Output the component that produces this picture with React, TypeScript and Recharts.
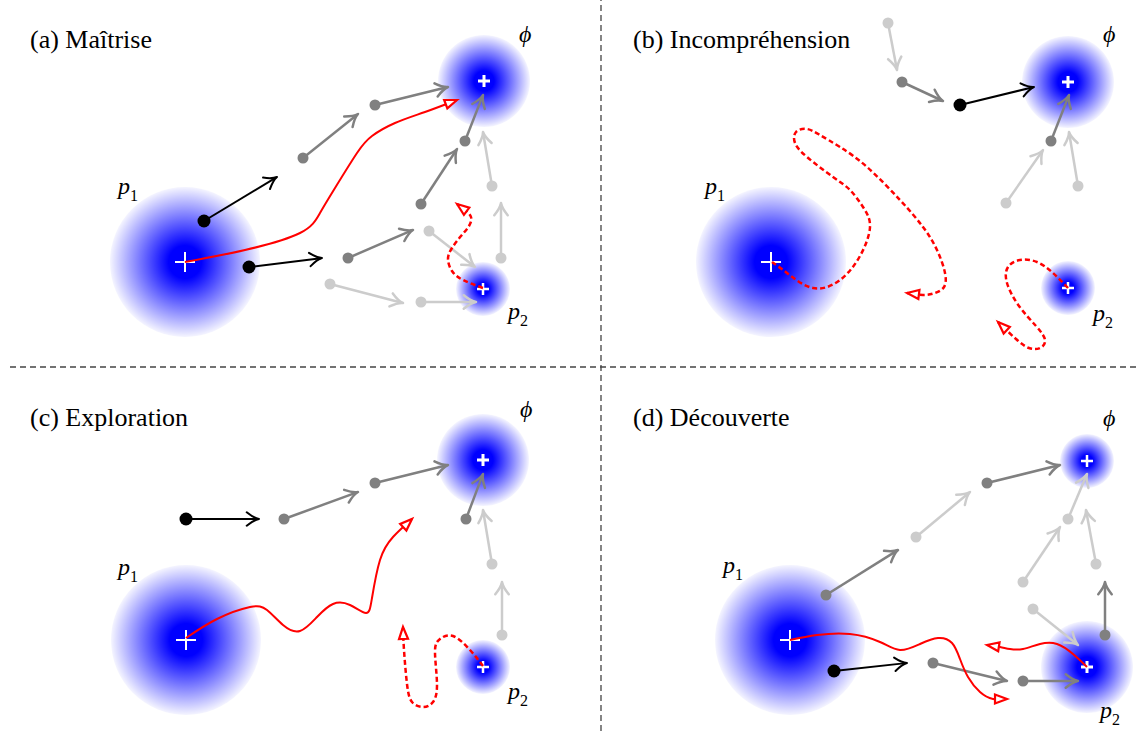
import React from "react";
import { ScatterChart, ComposedChart, Scatter, Line, XAxis, YAxis, ReferenceLine } from "recharts";

const W = 1137;
const H = 731;

type Pt = { x: number; y: number };
type Tone = "black" | "gray" | "light";
type Arrow = [number, number, number, number, Tone];

// attractors: p1, phi, p2 in each of the four panels
const blobs = [
  { x: 185, y: 262, kind: "large" },
  { x: 484, y: 81, kind: "medium" },
  { x: 483, y: 289, kind: "small" },
  { x: 771, y: 262, kind: "large" },
  { x: 1068, y: 82, kind: "medium" },
  { x: 1068, y: 288, kind: "small" },
  { x: 186, y: 640, kind: "large" },
  { x: 483, y: 460, kind: "medium" },
  { x: 483, y: 667, kind: "small" },
  { x: 790, y: 640, kind: "large" },
  { x: 1087, y: 461, kind: "small" },
  { x: 1087, y: 667, kind: "medium" },
];

// steps: [from x, from y, to x, to y, tone]
const arrowsA: Arrow[] = [
  [204, 221, 277, 177, "black"],
  [249, 267, 322, 258, "black"],
  [303, 158, 358, 114, "gray"],
  [375, 105, 448, 87, "gray"],
  [465, 141, 483, 95, "gray"],
  [421, 204, 457, 149, "gray"],
  [348, 258, 413, 230, "gray"],
  [492, 186, 483, 132, "light"],
  [501, 258, 501, 203, "light"],
  [429, 231, 475, 267, "light"],
  [330, 284, 403, 303, "light"],
  [421, 302, 476, 302, "light"],
];

const arrowsB: Arrow[] = [
  [888, 23, 897, 70, "light"],
  [902, 82, 943, 101, "gray"],
  [960, 105, 1034, 87, "black"],
  [1051, 141, 1069, 95, "gray"],
  [1006, 203, 1043, 150, "light"],
  [1078, 186, 1069, 132, "light"],
];

const arrowsC: Arrow[] = [
  [186, 519, 259, 519, "black"],
  [284, 519, 358, 492, "gray"],
  [375, 483, 448, 465, "gray"],
  [466, 519, 483, 474, "gray"],
  [492, 564, 483, 510, "light"],
  [502, 635, 502, 582, "light"],
];

const arrowsD: Arrow[] = [
  [826, 595, 898, 550, "gray"],
  [834, 671, 907, 663, "black"],
  [916, 537, 970, 492, "light"],
  [987, 483, 1060, 465, "gray"],
  [1068, 519, 1087, 474, "light"],
  [1023, 582, 1060, 527, "light"],
  [1096, 564, 1086, 510, "light"],
  [1033, 609, 1078, 645, "light"],
  [1105, 635, 1105, 582, "gray"],
  [933, 663, 1007, 681, "gray"],
  [1023, 681, 1078, 681, "gray"],
];

// red trajectories
const pathA1: Pt[] = [
  { x: 185, y: 262 }, { x: 245, y: 250 }, { x: 300, y: 233 }, { x: 320, y: 213 },
  { x: 335, y: 188 }, { x: 357, y: 153 }, { x: 372, y: 136 }, { x: 395, y: 123 },
  { x: 425, y: 112 }, { x: 457, y: 100 },
];
const pathA2: Pt[] = [
  { x: 483, y: 288 }, { x: 463, y: 280 }, { x: 452, y: 271 }, { x: 448, y: 259 },
  { x: 452, y: 248 }, { x: 461, y: 236 }, { x: 469, y: 226 }, { x: 471, y: 217 },
  { x: 465, y: 210 }, { x: 457, y: 204 },
];
const pathB1: Pt[] = [
  { x: 772, y: 262 }, { x: 787, y: 273 }, { x: 813, y: 288 }, { x: 840, y: 280 },
  { x: 860, y: 256 }, { x: 870, y: 227 }, { x: 863, y: 207 }, { x: 850, y: 190 },
  { x: 833, y: 177 }, { x: 807, y: 157 }, { x: 795, y: 143 }, { x: 796, y: 132 },
  { x: 807, y: 129 }, { x: 820, y: 135 }, { x: 840, y: 147 }, { x: 867, y: 167 },
  { x: 900, y: 200 }, { x: 923, y: 227 }, { x: 937, y: 250 }, { x: 945, y: 273 },
  { x: 944, y: 287 }, { x: 935, y: 293 }, { x: 923, y: 295 }, { x: 907, y: 293 },
];
const pathB2: Pt[] = [
  { x: 1068, y: 288 }, { x: 1053, y: 273 }, { x: 1037, y: 262 }, { x: 1020, y: 260 },
  { x: 1008, y: 267 }, { x: 1007, y: 283 }, { x: 1019, y: 306 }, { x: 1036, y: 326 },
  { x: 1045, y: 340 }, { x: 1040, y: 348 }, { x: 1029, y: 348 }, { x: 1016, y: 339 },
  { x: 998, y: 322 },
];
const pathC1: Pt[] = [
  { x: 186, y: 638 }, { x: 217, y: 619 }, { x: 250, y: 607 }, { x: 267, y: 610 },
  { x: 283, y: 625 }, { x: 300, y: 631 }, { x: 317, y: 617 }, { x: 333, y: 604 },
  { x: 350, y: 605 }, { x: 366, y: 613 }, { x: 372, y: 598 }, { x: 380, y: 560 },
  { x: 393, y: 537 }, { x: 412, y: 519 },
];
const pathC2: Pt[] = [
  { x: 483, y: 666 }, { x: 470, y: 650 }, { x: 453, y: 636 }, { x: 440, y: 639 },
  { x: 435, y: 652 }, { x: 437, y: 684 }, { x: 433, y: 702 }, { x: 423, y: 707 },
  { x: 412, y: 702 }, { x: 407, y: 684 }, { x: 404, y: 650 }, { x: 403, y: 627 },
];
const pathD1: Pt[] = [
  { x: 790, y: 640 }, { x: 817, y: 635 }, { x: 850, y: 634 }, { x: 880, y: 642 },
  { x: 900, y: 650 }, { x: 920, y: 644 }, { x: 938, y: 638 }, { x: 952, y: 643 },
  { x: 960, y: 659 }, { x: 968, y: 677 }, { x: 980, y: 692 }, { x: 993, y: 699 },
  { x: 1007, y: 699 },
];
const pathD2: Pt[] = [
  { x: 1087, y: 667 }, { x: 1073, y: 654 }, { x: 1057, y: 644 }, { x: 1040, y: 644 },
  { x: 1023, y: 649 }, { x: 1010, y: 649 }, { x: 1000, y: 647 }, { x: 987, y: 645 },
];

const paths = [
  { pts: pathA1, dashed: false },
  { pts: pathA2, dashed: true },
  { pts: pathB1, dashed: true },
  { pts: pathB2, dashed: true },
  { pts: pathC1, dashed: false },
  { pts: pathC2, dashed: true },
  { pts: pathD1, dashed: false },
  { pts: pathD2, dashed: false },
];

const labels = [
  { x: 30, y: 48, kind: "title", text: "(a) Maîtrise" },
  { x: 633, y: 48, kind: "title", text: "(b) Incompréhension" },
  { x: 30, y: 426, kind: "title", text: "(c) Exploration" },
  { x: 633, y: 426, kind: "title", text: "(d) Découverte" },
  { x: 118, y: 194, kind: "var", text: "p", sub: "1" },
  { x: 508, y: 319, kind: "var", text: "p", sub: "2" },
  { x: 519, y: 42, kind: "phi", text: "ϕ" },
  { x: 705, y: 194, kind: "var", text: "p", sub: "1" },
  { x: 1093, y: 321, kind: "var", text: "p", sub: "2" },
  { x: 1103, y: 42, kind: "phi", text: "ϕ" },
  { x: 118, y: 575, kind: "var", text: "p", sub: "1" },
  { x: 508, y: 699, kind: "var", text: "p", sub: "2" },
  { x: 520, y: 417, kind: "phi", text: "ϕ" },
  { x: 723, y: 573, kind: "var", text: "p", sub: "1" },
  { x: 1100, y: 718, kind: "var", text: "p", sub: "2" },
  { x: 1103, y: 426, kind: "phi", text: "ϕ" },
];

const BLOB_R: Record<string, number> = { large: 75, medium: 46, small: 27 };
const CROSS: Record<string, [number, number]> = { large: [10, 2], medium: [6, 3], small: [6, 2.5] };
const TONE: Record<Tone, { c: string; w: number; r: number }> = {
  black: { c: "#000000", w: 2, r: 6.5 },
  gray: { c: "#808080", w: 2.5, r: 5.5 },
  light: { c: "#cccccc", w: 2.5, r: 5.5 },
};
const SERIF = "Liberation Serif, DejaVu Serif, serif";

function BlobShape(props: any) {
  const { cx, cy, payload } = props;
  const r = BLOB_R[payload.kind];
  const [c, w] = CROSS[payload.kind];
  const id = `blob-${payload.x}-${payload.y}`;
  return (
    <g>
      <defs>
        <radialGradient id={id} cx="50%" cy="50%" r="50%">
          <stop offset="0" stopColor="#0000ff" />
          <stop offset="0.22" stopColor="#0000ff" />
          <stop offset="1" stopColor="#0000ff" stopOpacity={0.04} />
        </radialGradient>
      </defs>
      <circle cx={cx} cy={cy} r={r} fill={`url(#${id})`} />
      <path d={`M${cx - c},${cy}H${cx + c}M${cx},${cy - c}V${cy + c}`} stroke="#ffffff" strokeWidth={w} />
    </g>
  );
}

const arrowShape = (tone: Tone) => (p: any) => {
  const { x1, y1, x2, y2 } = p;
  const t = TONE[tone];
  const a = Math.atan2(y2 - y1, x2 - x1);
  const L = 14;
  const s = 0.5;
  const ax = x2 - L * Math.cos(a - s);
  const ay = y2 - L * Math.sin(a - s);
  const bx = x2 - L * Math.cos(a + s);
  const by = y2 - L * Math.sin(a + s);
  const ex = x2 - 1.2 * Math.cos(a);
  const ey = y2 - 1.2 * Math.sin(a);
  return (
    <g>
      <line x1={x1} y1={y1} x2={ex} y2={ey} stroke={t.c} strokeWidth={t.w} />
      <path
        d={`M${ax},${ay}Q${x2 - 5 * Math.cos(a - 0.15)},${y2 - 5 * Math.sin(a - 0.15)} ${x2},${y2}Q${x2 - 5 * Math.cos(a + 0.15)},${y2 - 5 * Math.sin(a + 0.15)} ${bx},${by}`}
        fill="none"
        stroke={t.c}
        strokeWidth={t.w}
        strokeLinecap="round"
        strokeLinejoin="round"
      />
      <circle cx={x1} cy={y1} r={t.r} fill={t.c} />
    </g>
  );
};

const headShape = (p: any) => {
  const { x1, y1, x2, y2 } = p;
  const a = Math.atan2(y2 - y1, x2 - x1);
  const L = 12;
  const hw = 4.5;
  const bx = x2 - L * Math.cos(a);
  const by = y2 - L * Math.sin(a);
  const nx = -Math.sin(a) * hw;
  const ny = Math.cos(a) * hw;
  return (
    <path
      d={`M${x2},${y2}L${bx + nx},${by + ny}L${bx - nx},${by - ny}Z`}
      fill="#ffffff"
      stroke="#ff0000"
      strokeWidth={2.2}
    />
  );
};

function LabelShape(props: any) {
  const { cx, cy, payload } = props;
  if (payload.kind === "title") {
    return (
      <text x={cx} y={cy} style={{ fontFamily: SERIF, fontSize: 26 }} fill="#000">
        {payload.text}
      </text>
    );
  }
  if (payload.kind === "phi") {
    return (
      <text x={cx} y={cy} style={{ fontFamily: SERIF, fontSize: 24, fontStyle: "italic" }} fill="#000">
        {payload.text}
      </text>
    );
  }
  return (
    <text x={cx} y={cy} style={{ fontFamily: SERIF, fontSize: 24, fontStyle: "italic" }} fill="#000">
      {payload.text}
      <tspan style={{ fontStyle: "normal", fontSize: 16 }} dy={7}>
        {payload.sub}
      </tspan>
    </text>
  );
}

const margin = { top: 0, right: 0, bottom: 0, left: 0 };

export default function App() {
  const allArrows = [...arrowsA, ...arrowsB, ...arrowsC, ...arrowsD];
  return (
    <div style={{ position: "absolute", left: 0, top: 0, width: W, height: H, background: "#fff" }}>
      <div style={{ position: "absolute", left: 0, top: 0 }}>
        <ScatterChart width={W} height={H} margin={margin}>
          <XAxis type="number" dataKey="x" domain={[0, W]} allowDataOverflow hide />
          <YAxis type="number" dataKey="y" domain={[0, H]} allowDataOverflow reversed hide />
          <Scatter data={blobs} shape={BlobShape} isAnimationActive={false} />
          <ReferenceLine x={601} stroke="#444" strokeWidth={1.3} strokeDasharray="6 4" ifOverflow="visible" />
          <ReferenceLine
            segment={[{ x: 10, y: 367 }, { x: W, y: 367 }]}
            stroke="#444"
            strokeWidth={1.3}
            strokeDasharray="6 4"
            ifOverflow="visible"
          />
        </ScatterChart>
      </div>
      <div style={{ position: "absolute", left: 0, top: 0 }}>
        <ComposedChart width={W} height={H} margin={margin}>
          <XAxis type="number" dataKey="x" domain={[0, W]} allowDataOverflow hide />
          <YAxis type="number" dataKey="y" domain={[0, H]} allowDataOverflow reversed hide />
          {allArrows.map((a, i) => (
            <ReferenceLine
              key={`ar-${i}`}
              segment={[{ x: a[0], y: a[1] }, { x: a[2], y: a[3] }]}
              shape={arrowShape(a[4])}
              ifOverflow="visible"
            />
          ))}
          {paths.map((p, i) => (
            <Line
              key={`ln-${i}`}
              data={p.pts}
              dataKey="y"
              type="natural"
              stroke="#ff0000"
              strokeWidth={p.dashed ? 2.5 : 2}
              strokeDasharray={p.dashed ? "5 3" : undefined}
              dot={false}
              activeDot={false}
              isAnimationActive={false}
            />
          ))}
          {paths.map((p, i) => {
            const n = p.pts.length;
            return (
              <ReferenceLine
                key={`hd-${i}`}
                segment={[p.pts[n - 2], p.pts[n - 1]]}
                shape={headShape}
                ifOverflow="visible"
              />
            );
          })}
          <Scatter data={labels} shape={LabelShape} isAnimationActive={false} />
        </ComposedChart>
      </div>
    </div>
  );
}
